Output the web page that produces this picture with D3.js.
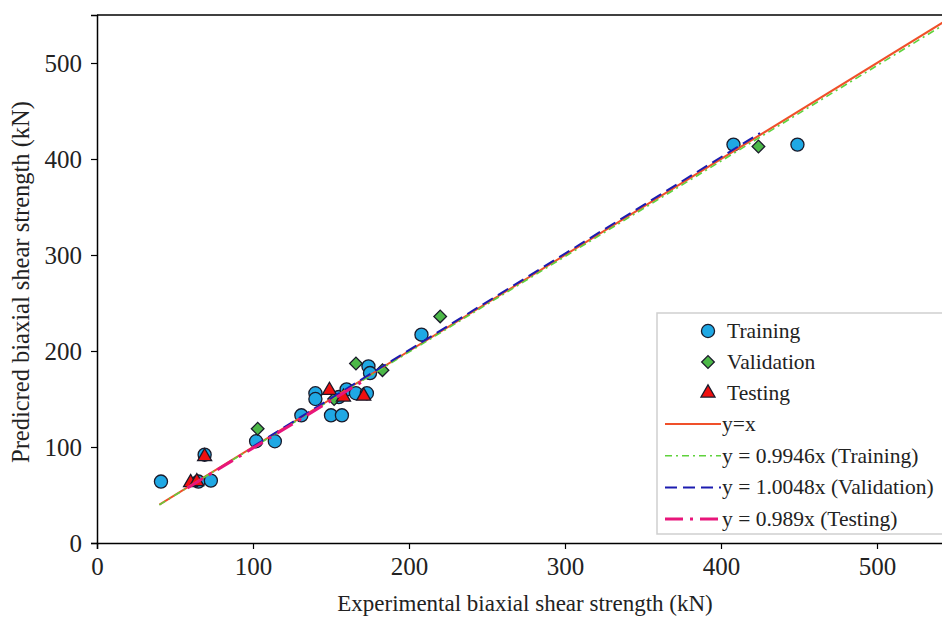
<!DOCTYPE html>
<html>
<head>
<meta charset="utf-8">
<script src="https://cdn.jsdelivr.net/npm/d3@7"></script>
<style>
  body { margin: 0; background: #fff; }
  text { font-family: "Times New Roman", "Liberation Serif", serif; fill: #222; }
</style>
</head>
<body>
<script>
// experimental vs predicted, kN
var trainX = [41, 65, 73, 69, 102, 114, 131, 140, 140, 150, 157, 155, 160, 166, 173, 174, 175, 208, 408, 449];
var trainY = [64, 64, 65, 92, 106, 106, 133, 156, 150, 133, 133, 152, 160, 156, 156, 184, 177, 217, 415, 415];
var validX = [103, 152, 166, 183, 220, 424];
var validY = [119, 150, 187, 180, 236, 413];
var testX = [60, 64, 69, 149, 158, 171];
var testY = [63, 64, 90, 159, 152, 153];

// fitted lines: slope + x range
var lineNames = ["y=x", "y = 0.9946x (Training)", "y = 1.0048x (Validation)", "y = 0.989x (Testing)"];
var lineSlopes = [1, 0.9946, 1.0048, 0.989];
var lineFrom = [40, 40, 100, 58];
var lineTo = [550, 550, 425, 172];
var lineColors = ["#f0502a", "#5fd23c", "#1c1cb0", "#e8157a"];
var lineDash = ["", "7,4,2,4", "12,6", "18,7,3,7"];
var lineWidth = [2, 1.6, 2, 3];

var ticks = [0, 100, 200, 300, 400, 500];

var W = 942, H = 617;
var svg = d3.select("body").append("svg")
  .attr("width", W)
  .attr("height", H);

var x = d3.scaleLinear().domain([0, 550]).range([97, 955]);
var y = d3.scaleLinear().domain([0, 550]).range([543, 15]);

// frame top
svg.append("line")
  .attr("x1", x(0)).attr("x2", x(550))
  .attr("y1", y(550)).attr("y2", y(550))
  .attr("stroke", "#000").attr("stroke-width", 1.5);

var xAxis = svg.append("g")
  .attr("transform", "translate(0," + y(0) + ")")
  .call(d3.axisBottom(x).tickValues(ticks).tickSize(6).tickPadding(8).tickFormat(d3.format("d")));
var yAxis = svg.append("g")
  .attr("transform", "translate(" + x(0) + ",0)")
  .call(d3.axisLeft(y).tickValues(ticks).tickSize(6).tickPadding(9).tickFormat(d3.format("d")));

[xAxis, yAxis].forEach(function(g) {
  g.select(".domain").attr("stroke", "#000").attr("stroke-width", 1.5);
  g.selectAll(".tick line").attr("stroke", "#000").attr("stroke-width", 1.2);
  g.selectAll(".tick text").style("font-size", "25px").attr("fill", "#222");
});

svg.append("text")
  .attr("x", 525).attr("y", 611)
  .attr("text-anchor", "middle")
  .style("font-size", "23px")
  .text("Experimental biaxial shear strength (kN)");

svg.append("text")
  .attr("transform", "translate(29,282) rotate(-90)")
  .attr("text-anchor", "middle")
  .style("font-size", "24.5px")
  .text("Predicred biaxial shear strength (kN)");

// markers
var circleSym = d3.symbol().type(d3.symbolCircle).size(135);
var diamondSym = d3.symbol().type(d3.symbolSquare).size(80);
var triSym = d3.symbol().type(d3.symbolTriangle).size(85);

function drawPts(xs, ys, sym, fill, rot) {
  svg.append("g").selectAll("path")
    .data(xs)
    .enter()
    .append("path")
    .attr("d", sym)
    .attr("transform", function(d, i) {
      return "translate(" + x(d) + "," + y(ys[i]) + ") rotate(" + rot + ")";
    })
    .attr("fill", fill)
    .attr("stroke", "#1a1a2a")
    .attr("stroke-width", 1.3);
}
drawPts(trainX, trainY, circleSym, "#1fa8e4", 0);
drawPts(validX, validY, diamondSym, "#4cb848", 45);
drawPts(testX, testY, triSym, "#f01010", 0);

// lines on top
var lines = svg.append("g");
lineSlopes.forEach(function(k, i) {
  lines.append("line")
    .attr("x1", x(lineFrom[i])).attr("y1", y(k * lineFrom[i]))
    .attr("x2", x(lineTo[i])).attr("y2", y(k * lineTo[i]))
    .attr("stroke", lineColors[i])
    .attr("stroke-width", lineWidth[i])
    .attr("stroke-dasharray", lineDash[i]);
});

// legend
var leg = svg.append("g");
leg.append("rect")
  .attr("x", 657).attr("y", 313).attr("width", 300).attr("height", 221)
  .attr("fill", "#fff").attr("stroke", "#cfcfcf").attr("stroke-width", 1.5);

var markNames = ["Training", "Validation", "Testing"];
var markSyms = [circleSym, diamondSym, triSym];
var markFill = ["#1fa8e4", "#4cb848", "#f01010"];
var markRot = [0, 45, 0];
markNames.forEach(function(n, i) {
  var cy = 331 + i * 31;
  leg.append("path")
    .attr("d", markSyms[i])
    .attr("transform", "translate(708," + cy + ") rotate(" + markRot[i] + ")")
    .attr("fill", markFill[i])
    .attr("stroke", "#1a1a2a").attr("stroke-width", 1.3);
  leg.append("text")
    .attr("x", 727).attr("y", cy + 7)
    .style("font-size", "21.5px")
    .text(n);
});
lineNames.forEach(function(n, i) {
  var cy = 424 + i * 31.7;
  leg.append("line")
    .attr("x1", 665).attr("x2", 721)
    .attr("y1", cy).attr("y2", cy)
    .attr("stroke", lineColors[i])
    .attr("stroke-width", lineWidth[i])
    .attr("stroke-dasharray", lineDash[i]);
  leg.append("text")
    .attr("x", 722).attr("y", cy + 7)
    .style("font-size", "21.5px")
    .text(n);
});
</script>
</body>
</html>
